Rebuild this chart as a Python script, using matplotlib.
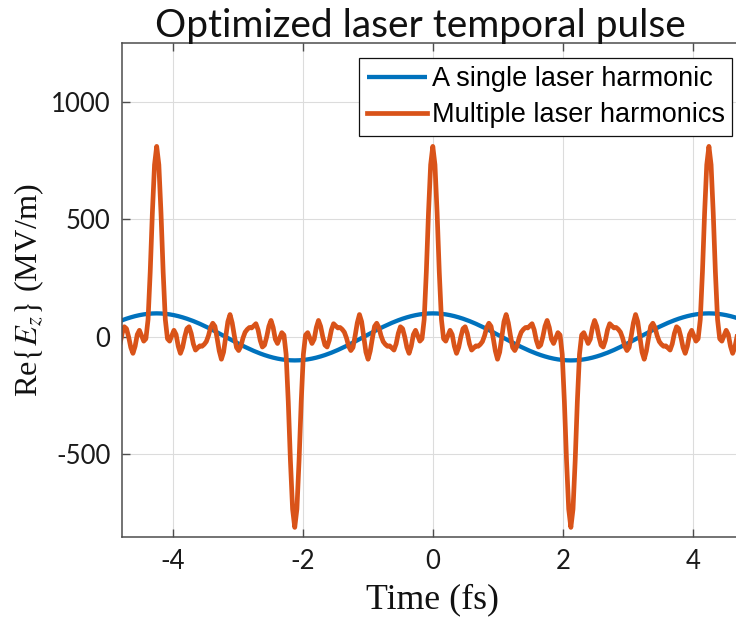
import numpy as np
import matplotlib
matplotlib.use("Agg")
import matplotlib.pyplot as plt

# ---------------- data ----------------
PERIOD_FS = 4.25          # repetition period of the pulse train (fs)
# digitised quarter period, t = 0 ... T/4 in steps of T/128  (MV/m)
orange_quarter = [810, 732, 527, 276, 74, -8, -18, 5, 28, 10, -40, -70, -45, 0,
                  35, 43, 15, -30, -56, -47, -38, -40, -32, -20, 5, 40, 58, 45,
                  -5, -60, -95, -65, 0]
blue_quarter = [100, 99.9, 99.5, 98.9, 98.1, 97.0, 95.7, 94.2, 92.4, 90.4, 88.2,
                85.8, 83.1, 80.3, 77.3, 74.1, 70.7, 67.2, 63.4, 59.6, 55.6, 51.4,
                47.1, 42.8, 38.3, 33.7, 29.0, 24.3, 19.5, 14.7, 9.8, 4.9, 0]
series_labels = ["A single laser harmonic", "Multiple laser harmonics"]
x_ticks = [-4, -2, 0, 2, 4]
y_ticks = [-500, 0, 500, 1000]
title_text = "Optimized laser temporal pulse"
x_label = "Time (fs)"
y_label = r"Re$\{E_z\}$ (MV/m)"


def unfold(q, n_periods=5):
    """Even, half-wave antisymmetric trace -> repeat over several periods."""
    q = np.asarray(q, float)
    n = len(q) - 1
    half = np.concatenate([q, -q[-2::-1]])                  # 0 .. T/2
    period = np.concatenate([half[:0:-1], half[:-1]])       # -T/2 .. T/2
    y = np.tile(period, n_periods)
    step = PERIOD_FS / (4 * n)
    t = (np.arange(len(y)) - n_periods * 2 * n) * step
    return t, y


t_b, e_b = unfold(blue_quarter)
t_o, e_o = unfold(orange_quarter)

# ---------------- figure ----------------
plt.rcParams["mathtext.fontset"] = "stix"
W, H = 736, 624
fig = plt.figure(figsize=(W / 100, H / 100), dpi=100)

ax_l, ax_r, ax_t, ax_b = 121.6, 744.0, 42.9, 536.8
ax = fig.add_axes([ax_l / W, 1 - ax_b / H, (ax_r - ax_l) / W, (ax_b - ax_t) / H])

blue = "#0072BD"
orange = "#D95319"
ax.plot(t_b, e_b, color=blue, lw=3.1, label=series_labels[0], solid_capstyle="butt")
ax.plot(t_o, e_o, color=orange, lw=3.4, label=series_labels[1], solid_joinstyle="round")

ax.set_xlim(-4.79, 4.79)
ax.set_ylim(-850, 1250)
ax.set_xticks(x_ticks)
ax.set_xticklabels([str(v) for v in x_ticks])
ax.set_yticks(y_ticks)
ax.set_yticklabels([str(v) for v in y_ticks])

ax.grid(True, color="#dcdcdc", lw=0.8)
ax.set_axisbelow(True)
for s in ax.spines.values():
    s.set_color("#4d4d4d")
    s.set_linewidth(1.1)
ax.tick_params(direction="in", length=6, width=1.0, color="#4d4d4d",
               top=True, right=True, labelsize=18.5, labelcolor="#1a1a1a")
ax.tick_params(axis="x", pad=9)
ax.tick_params(axis="y", pad=8)
for lab in ax.get_xticklabels() + ax.get_yticklabels():
    lab.set_fontfamily("Lato")

title = fig.text(420 / W, 1 - 37 / H, title_text, ha="center", va="baseline",
                 fontsize=24, family="Lato", color="#111111")

xl = ax.set_xlabel(x_label, family="Liberation Serif", fontsize=20, color="#111111")
ax.xaxis.set_label_coords(0.5, (ax_b - 600) / (ax_b - ax_t))
xl.set_verticalalignment("center")
yl = ax.set_ylabel(y_label, family="Liberation Serif", fontsize=20, color="#111111")
ax.yaxis.set_label_coords((29 - ax_l) / (ax_r - ax_l), 0.5)
yl.set_verticalalignment("center")

leg = ax.legend(loc="upper right", bbox_to_anchor=(732 / W, 1 - 58 / H),
                bbox_transform=fig.transFigure, borderaxespad=0,
                prop={"family": "Liberation Sans", "size": 18},
                handlelength=2.4, handletextpad=0.2, borderpad=0.3,
                labelspacing=0.42, fancybox=False, framealpha=1,
                edgecolor="#111111")
leg.get_frame().set_linewidth(0.9)

# fit text sizes to the measured extents of the reference
fig.canvas.draw()
r = fig.canvas.get_renderer()


def fit(artist, target, vertical=False):
    bb = artist.get_window_extent(r)
    size = bb.height if vertical else bb.width
    artist.set_fontsize(artist.get_fontsize() * target / size)


fit(title, 532)
fit(xl, 133)
fit(yl, 214, vertical=True)
lt = leg.get_texts()
fit(lt[1], 292)
lt[0].set_fontsize(lt[1].get_fontsize())

fig.savefig("out.png", dpi=100)
